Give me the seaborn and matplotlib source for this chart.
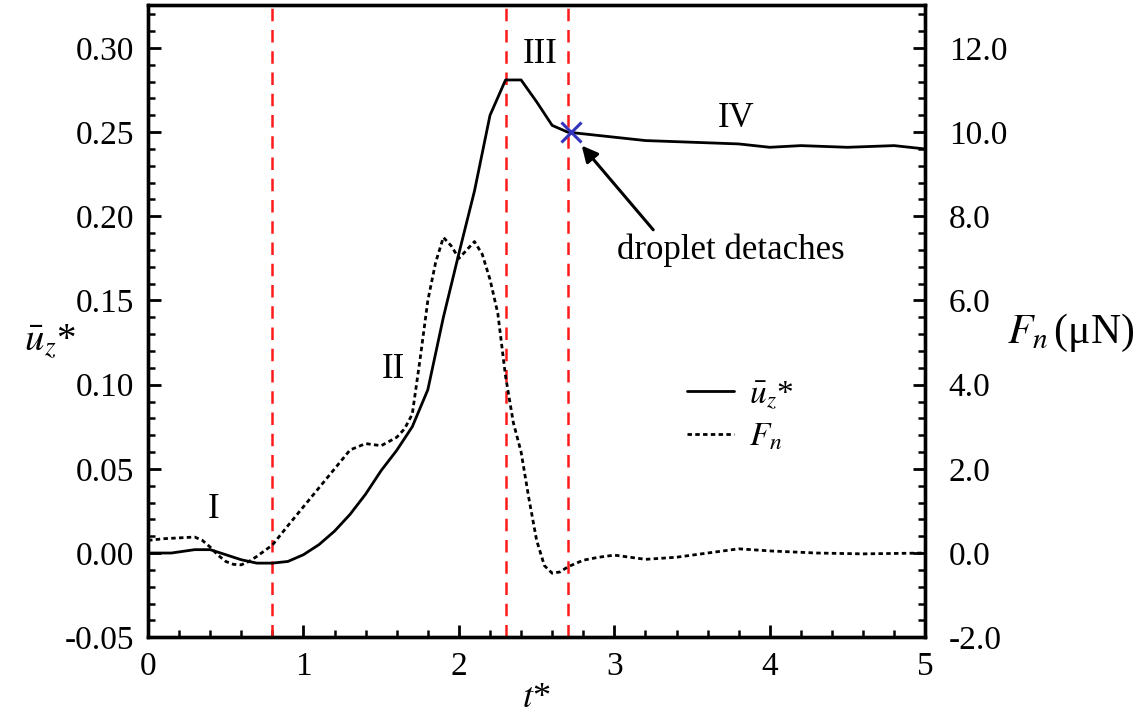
import numpy as np
import pandas as pd
import matplotlib
matplotlib.use("Agg")
import matplotlib.pyplot as plt
from matplotlib.ticker import MultipleLocator, FormatStrFormatter
import seaborn as sns

# ── Data ────────────────────────────────────────────────────────────────────
T_U = [0.0, 0.15, 0.3, 0.4, 0.5, 0.6, 0.7, 0.8, 0.9, 1.0, 1.1, 1.2, 1.3, 1.4,
       1.5, 1.6, 1.7, 1.8, 1.9, 2.0, 2.1, 2.2, 2.3, 2.4, 2.5, 2.6, 2.7, 2.8,
       3.0, 3.2, 3.5, 3.8, 4.0, 4.2, 4.5, 4.8, 5.0]
U_Z = [0.0, 0.0, 0.002, 0.002, -0.001, -0.004, -0.006, -0.006, -0.005, -0.001,
       0.005, 0.013, 0.023, 0.035, 0.049, 0.061, 0.075, 0.097, 0.140, 0.178,
       0.215, 0.260, 0.281, 0.281, 0.268, 0.254, 0.250, 0.249, 0.247, 0.245,
       0.244, 0.243, 0.241, 0.242, 0.241, 0.242, 0.240]

T_F = [0.0, 0.1, 0.2, 0.3, 0.35, 0.4, 0.45, 0.5, 0.55, 0.6, 0.65, 0.7, 0.8,
       0.9, 1.0, 1.1, 1.2, 1.3, 1.4, 1.5, 1.6, 1.65, 1.7, 1.75, 1.8, 1.85,
       1.9, 1.95, 2.0, 2.05, 2.1, 2.15, 2.2, 2.25, 2.3, 2.35, 2.4, 2.45, 2.5,
       2.55, 2.6, 2.65, 2.7, 2.8, 2.9, 3.0, 3.2, 3.4, 3.6, 3.8, 4.0, 4.3,
       4.6, 5.0]
F_N = [0.3, 0.34, 0.36, 0.38, 0.3, 0.14, -0.05, -0.2, -0.27, -0.28, -0.2,
       -0.08, 0.19, 0.65, 1.1, 1.55, 2.0, 2.45, 2.6, 2.55, 2.75, 2.95, 3.3,
       4.6, 6.0, 6.9, 7.5, 7.3, 7.0, 7.2, 7.4, 7.1, 6.5, 5.7, 4.2, 3.1, 2.4,
       1.3, 0.3, -0.3, -0.48, -0.45, -0.33, -0.17, -0.1, -0.05, -0.15, -0.1,
       0.0, 0.1, 0.05, 0.0, -0.02, 0.0]

STAGE_BOUNDS = [0.8, 2.3, 2.7]
STAGE_NAMES = ["I", "II", "III", "IV"]
STAGE_POS = [(0.42, 0.026), (1.58, 0.109), (2.52, 0.296), (3.78, 0.258)]
DETACH_POINT = (2.72, 0.250)

# ── Style ───────────────────────────────────────────────────────────────────
sns.set_style("ticks", {"axes.edgecolor": "black", "xtick.color": "black",
                        "ytick.color": "black", "text.color": "black",
                        "axes.labelcolor": "black"})
plt.rcParams["font.family"] = ["Liberation Serif", "DejaVu Serif"]
plt.rcParams["mathtext.fontset"] = "stix"
plt.rcParams["font.size"] = 16

df_u = pd.DataFrame({"t": T_U, "u": U_Z})
df_f = pd.DataFrame({"t": T_F, "F": F_N})

fig = plt.figure(figsize=(11.43, 7.2), dpi=100)
ax = fig.add_axes([0.1295, 0.115, 0.680, 0.878])
ax2 = ax.twinx()

sns.lineplot(data=df_u, x="t", y="u", ax=ax, color="black", lw=2.0,
             label=r"$\bar{u}_z$*", legend=False)
sns.lineplot(data=df_f, x="t", y="F", ax=ax2, color="black", lw=2.0,
             linestyle=(0, (1.6, 1.2)), label=r"$F_n$", legend=False)

for xb in STAGE_BOUNDS:
    ax.axvline(xb, color="#ff1a1a", lw=1.8, linestyle=(0, (5, 3.5)), zorder=1)

for name, (xs, ys) in zip(STAGE_NAMES, STAGE_POS):
    ax.text(xs, ys, name, ha="center", va="center", fontsize=25)

ax.plot(*DETACH_POINT, marker="x", color="#3333bb", ms=15, mew=2.2, zorder=5)
ax.annotate("", xy=(2.79, 0.242), xytext=(3.25, 0.192),
            arrowprops=dict(arrowstyle="-|>", color="black", lw=2.2,
                            mutation_scale=24, shrinkA=0, shrinkB=0))
ax.text(3.02, 0.180, "droplet detaches", ha="left", va="center", fontsize=25)

# axes limits & ticks
ax.set_xlim(0, 5)
ax.set_ylim(-0.05, 0.3255)
ax2.set_ylim(-2.0, 13.02)
ax.xaxis.set_major_locator(MultipleLocator(1))
ax.xaxis.set_minor_locator(MultipleLocator(0.2))
ax.yaxis.set_major_locator(MultipleLocator(0.05))
ax.yaxis.set_minor_locator(MultipleLocator(0.01))
ax.yaxis.set_major_formatter(FormatStrFormatter("%.2f"))
ax2.yaxis.set_major_locator(MultipleLocator(2.0))
ax2.yaxis.set_minor_locator(MultipleLocator(0.4))
ax2.yaxis.set_major_formatter(FormatStrFormatter("%.1f"))

for a in (ax, ax2):
    a.tick_params(which="major", direction="in", length=9, width=2,
                  labelsize=24, pad=10, colors="black")
    a.tick_params(which="minor", direction="in", length=5, width=1.8,
                  colors="black")
    for sp in a.spines.values():
        sp.set_linewidth(2.4)
        sp.set_color("black")
ax.tick_params(axis="y", which="both", right=False)
ax2.tick_params(axis="y", which="both", left=False)
ax2.tick_params(axis="y", pad=17)

ax.set_xlabel(r"$t$*", fontsize=26, labelpad=0)
ax.set_ylabel(r"$\bar{u}_z$*", fontsize=28, rotation=0, ha="center",
              va="center")
ax.yaxis.set_label_coords(-0.126, 0.468)
ax2.set_ylabel(r"$F_n\,$(μN)", fontsize=30, rotation=0, ha="center",
               va="center")
ax2.yaxis.set_label_coords(1.187, 0.481)

h1, l1 = ax.get_legend_handles_labels()
h2, l2 = ax2.get_legend_handles_labels()
ax.legend(h1 + h2, l1 + l2, loc="center left", bbox_to_anchor=(0.655, 0.35),
          frameon=False, fontsize=24, handlelength=1.4, handletextpad=0.45,
          labelspacing=0.35)

fig.savefig("out.png", dpi=100)
